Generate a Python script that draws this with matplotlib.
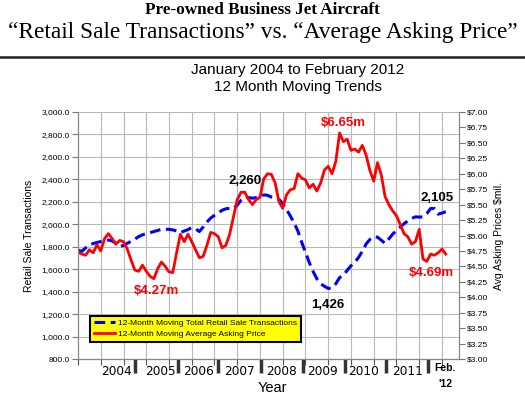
# pre-owned business jet market: 12 month moving trends, jan 2004 - feb 2012
# left axis = retail sale transactions, right axis = average asking price ($mil)

import numpy as np
import matplotlib.pyplot as plt
from matplotlib.lines import Line2D

# monthly points, index 0 = jan 2004, index 97 = feb 2012
transactions = [
    1770, 1758, 1790, 1818, 1828, 1838, 1846, 1855, 1860, 1852, 1830, 1800,
    1812, 1830, 1848, 1868, 1890, 1906, 1916, 1925, 1935, 1945, 1955, 1956,
    1955, 1950, 1940, 1925, 1940, 1952, 1972, 1960, 1935, 1975, 2020, 2055,
    2080, 2100, 2125, 2138, 2142, 2138, 2170, 2215, 2238, 2238, 2232, 2238,
    2246, 2262, 2258, 2242, 2230, 2222, 2185, 2130, 2075, 2010, 1940, 1840,
    1750, 1660, 1580, 1515, 1470, 1448, 1428, 1434, 1470, 1525, 1545, 1590,
    1630, 1660, 1705, 1760, 1825, 1865, 1890, 1885, 1858, 1830, 1870, 1912,
    1945, 1975, 2005, 2030, 2052, 2066, 2064, 2066, 2095, 2140, 2140, 2090,
    2100, 2112,
]
asking_price = [
    4.73, 4.70, 4.68, 4.77, 4.72, 4.85, 4.75, 4.95, 5.03, 4.95, 4.86, 4.92,
    4.90, 4.78, 4.60, 4.44, 4.42, 4.52, 4.42, 4.34, 4.30, 4.46, 4.57, 4.50,
    4.41, 4.40, 4.72, 5.02, 4.90, 5.02, 4.90, 4.77, 4.64, 4.66, 4.84, 5.05,
    5.03, 4.98, 4.80, 4.84, 5.02, 5.30, 5.58, 5.70, 5.70, 5.58, 5.50, 5.58,
    5.62, 5.92, 6.00, 5.99, 5.85, 5.55, 5.44, 5.66, 5.74, 5.76, 6.00, 5.93,
    5.90, 5.77, 5.83, 5.72, 5.85, 6.06, 6.12, 6.00, 6.20, 6.66, 6.52, 6.56,
    6.38, 6.40, 6.35, 6.46, 6.30, 6.05, 5.88, 6.18, 5.98, 5.63, 5.50, 5.40,
    5.32, 5.18, 5.03, 4.98, 4.86, 4.90, 5.10, 4.62, 4.58, 4.70, 4.68, 4.72,
    4.78, 4.70,
]
months = np.arange(len(transactions))

year_labels = ['2004', '2005', '2006', '2007', '2008', '2009', '2010', '2011']
year_label_pos = [10.2, 21.8, 31.7, 42.5, 53.8, 64.4, 75.2, 86.8]
year_breaks = [15.0, 26.4, 36.9, 48.3, 59.4, 70.4, 81.3, 92.3]

# callouts: (text, month, left-axis height, colour)
callouts = [
    ('$4.27m', 20.8, 1408, 'red'),
    ('2,260', 44.1, 2385, 'black'),
    ('$6.65m', 70.0, 2905, 'red'),
    ('1,426', 66.0, 1281, 'black'),
    ('2,105', 94.6, 2231, 'black'),
    ('$4.69m', 93.3, 1563, 'red'),
]

plt.rcParams['font.family'] = ['Liberation Sans', 'DejaVu Sans']

fig = plt.figure(figsize=(5.25, 3.96), dpi=100)

# headings
fig.text(0.5, 0.975, 'Pre-owned Business Jet Aircraft', ha='center', va='center',
         family='Liberation Serif', weight='bold', fontsize=12.3)
fig.text(0.5, 0.917, '\u201cRetail Sale Transactions\u201d vs. \u201cAverage Asking Price\u201d',
         ha='center', va='center', family='Liberation Serif', fontsize=16.8)
fig.add_artist(Line2D([0, 1], [0.856, 0.856], color='#222222', lw=1.8))
fig.text(0.567, 0.823, 'January 2004 to February 2012', ha='center', va='center', fontsize=11)
fig.text(0.567, 0.780, '12 Month Moving Trends', ha='center', va='center', fontsize=11)

ax = fig.add_axes([0.1486, 0.0934, 0.7257, 0.6238])
ax2 = ax.twinx()

blue, = ax.plot(months, transactions, color='#0000ff', lw=2.2, dashes=(3.5, 1.8),
                label='12-Month Moving Total Retail Sale Transactions')
red, = ax2.plot(months, asking_price, color='#ff0000', lw=2.0,
                label='12-Month Moving Average Asking Price')

ax.set_xlim(0, 100.5)
ax.set_ylim(800, 3000)
ax2.set_ylim(3.0, 7.0)

ax.set_yticks(np.arange(800, 3001, 200))
ax.set_yticklabels([f'{v:,.1f}' for v in np.arange(800, 3001, 200)])
ax2.set_yticks(np.arange(3.0, 7.01, 0.25))
ax2.set_yticklabels([f'${v:.2f}' for v in np.arange(3.0, 7.01, 0.25)])
ax.set_xticks(np.arange(0, 100, 6))
ax.set_xticklabels([])

ax.grid(True, color='#b8b8b8', lw=0.8)
ax.set_axisbelow(True)
for a in (ax, ax2):
    a.tick_params(axis='y', labelsize=6, length=4, width=0.8, color='#777777', pad=2)
    for s in a.spines.values():
        s.set_color('#888888')
        s.set_linewidth(0.8)
    a.spines['top'].set_visible(False)
ax.tick_params(axis='x', length=4, color='#555555')
ax.spines['bottom'].set_color('#333333')

ax.set_ylabel('Retail Sale Transactions', fontsize=7.5, labelpad=5)
ax2.set_ylabel('Avg Asking Prices $mil.', fontsize=7.5, labelpad=4)

# year labels and hand drawn separators under the axis
xt = ax.get_xaxis_transform()
for lab, pos in zip(year_labels, year_label_pos):
    ax.text(pos, -0.050, lab, transform=xt, ha='center', va='center',
            family='DejaVu Sans', fontsize=8.7)
ax.text(96.8, -0.035, 'Feb.', transform=xt, ha='center', va='center', weight='bold', fontsize=7.5)
ax.text(96.8, -0.100, "'12", transform=xt, ha='center', va='center', weight='bold', fontsize=7.5)
for b in year_breaks:
    ax.plot([b, b], [0, -0.055], transform=xt, color='#333333', lw=2.5,
            solid_capstyle='butt', clip_on=False)
ax.text(51.3, -0.118, 'Year', transform=xt, ha='center', va='center', fontsize=10.5)

for txt, m, v, c in callouts:
    ax.text(m, v, txt, color=c, weight='bold', fontsize=9.5, ha='center', va='center')

leg = ax2.legend(handles=[blue, red], loc='lower left', bbox_to_anchor=(0.02, 0.052),
                 fontsize=6.05, frameon=True, fancybox=False, handlelength=2.6,
                 borderpad=0.45, labelspacing=0.35, handletextpad=0.3)
leg.get_frame().set_facecolor('#ffff00')
leg.get_frame().set_edgecolor('black')
leg.get_frame().set_linewidth(1.5)
leg.get_frame().set_alpha(1)

fig.savefig('out.png', dpi=100)
